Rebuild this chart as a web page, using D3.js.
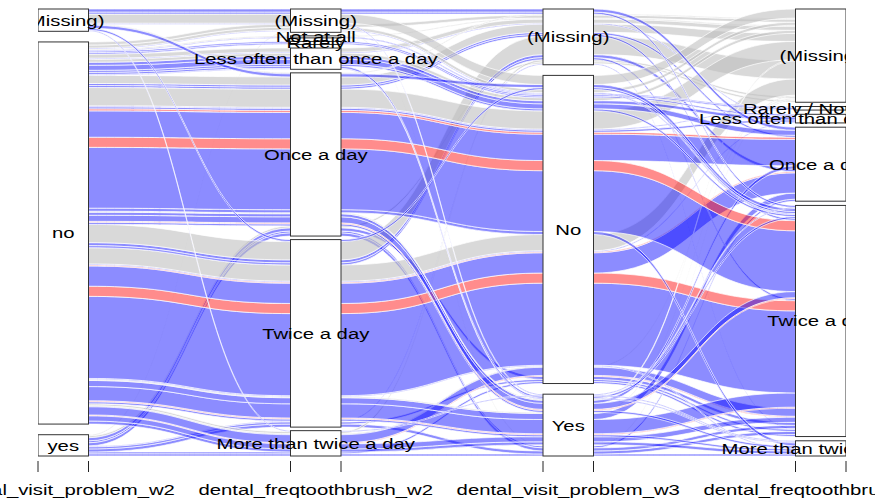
<!DOCTYPE html>
<meta charset="utf-8">
<script src="https://cdn.jsdelivr.net/npm/d3@7"></script>
<style>
body { margin: 0; background: #fff; }
svg text { font-family: "Liberation Sans", Arial, sans-serif; fill: #000; }
</style>
<body>
<div id="chart"></div>
<script>
// ---- data ----
const axisTitles = ["dental_visit_problem_w2", "dental_freqtoothbrush_w2",
                    "dental_visit_problem_w3", "dental_freqtoothbrush_w3"];
const levels1 = ["(Missing)", "no", "yes"];
const levels2 = ["(Missing)", "Not at all", "Rarely", "Less often than once a day",
                 "Once a day", "Twice a day", "More than twice a day"];
const levels3 = ["(Missing)", "No", "Yes"];
const levels4 = ["(Missing)", "Rarely / Not at all", "Less often than once a day",
                 "Once a day", "Twice a day", "More than twice a day"];

// one alluvium per position: level index on each axis, count and colour group
const a1 = [0,0,0,0,0,0,0,0, 1,1,1, 1,1, 1,1, 1,1,1,1,1,1,1,1,
            1,1,1,1,1,1,1,1,1,1,1,1,1,1,1,1,
            1,1,1,1,1,1,1,1,1,1,1,1,1,1,1,
            1,1,1,1,1,1, 2,2,2,2,2,2,2,2,2,2];
const a2 = [0,0,0,0,4,5,6,4, 0,0,0, 1,1, 2,2, 3,3,3,3,3,3,3,3,
            4,4,4,4,4,4,4,4,4,4,4,4,4,4,4,4,
            5,5,5,5,5,5,5,5,5,5,5,5,5,5,5,
            6,6,6,6,6,6, 0,4,4,4,4,5,5,6,6,5];
const a3 = [0,0,1,2,1,1,2,0, 0,1,1, 0,1, 1,1, 0,0,1,1,1,1,2,2,
            0,0,0,1,1,1,1,1,1,1,1,2,2,2,2,2,
            0,0,0,1,1,1,1,1,1,1,2,2,2,2,2,
            1,1,2,2,1,0, 2,1,2,2,0,1,2,2,1,0];
const a4 = [3,4,0,4,4,4,5,0, 0,0,4, 0,1, 1,2, 0,2,0,2,3,4,4,5,
            0,3,4,0,1,2,3,3,4,4,5,0,3,4,4,5,
            0,4,3,0,2,3,3,4,4,5,0,3,4,4,5,
            4,0,4,5,4,0, 0,4,4,3,0,4,4,5,4,4];
const freq = [3,2,9,1,3,2,1,1, 3,3,1, 1,1, 1.5,1.5, 4,1,3,3,5,2,2,1,
              8,2,2,18,1,2,2,26,10,60,3,1,3,6,1,2,
              18,2,3,16,1,1,20,10,81,1,1,6,14,1,2,
              8,1,5,3,1,2, 1,3,3,2,2,2,3,2,2,1];
const group = ["b","b","g","b","b","b","b","g", "g","g","b", "g","b", "b","b", "g","b","g","b","b","b","b","b",
               "g","b","b","g","b","b","r","b","r","b","b","g","b","b","r","b",
               "g","b","b","g","b","r","b","r","b","b","g","b","b","r","b",
               "b","g","b","b","r","g", "g","b","b","b","g","b","b","b","b","b"];

const colours = { b: "rgba(0,0,255,0.45)", r: "rgba(255,0,0,0.45)", g: "rgba(190,190,190,0.58)" };

// ---- layout ----
const width = 875, height = 499;
const cw = 0.1;
const levels = [levels1, levels2, levels3, levels4];
const cats = [a1, a2, a3, a4];
const nAx = cats.length;
const n = freq.length;
const N = d3.sum(freq);
const gapTotal = 0.05 * N;

const x = d3.scaleLinear().domain([1 - cw, nAx + cw]).range([38, 846]);
const y = d3.scaleLinear().domain([0, N + gapTotal]).range([9, 456]);

// stripe positions on every axis: sort by that axis, then the others in order
const stripeTop = d3.range(n).map(() => []);
const boxes = [];
for (let i = 0; i < nAx; i++) {
  const keys = [i].concat(d3.range(nAx).filter(j => j !== i));
  const ord = d3.range(n).sort((p, q) => {
    for (const k of keys) {
      if (cats[k][p] !== cats[k][q]) return cats[k][p] - cats[k][q];
    }
    return p - q;
  });
  const gap = gapTotal / (levels[i].length - 1);
  let pos = 0;
  levels[i].forEach((lab, li) => {
    const start = pos;
    ord.filter(k => cats[i][k] === li).forEach(k => {
      stripeTop[k][i] = pos;
      pos += freq[k];
    });
    boxes.push({ axis: i, label: lab, y0: start, y1: pos });
    pos += gap;
  });
}

function flowPath(k) {
  const p = d3.path();
  const t = stripeTop[k].map(v => y(v));
  const b = stripeTop[k].map(v => y(v + freq[k]));
  p.moveTo(x(1 - cw), t[0]);
  p.lineTo(x(1 + cw), t[0]);
  for (let i = 1; i < nAx; i++) {
    const x0 = x(i + cw), x1 = x(i + 1 - cw), xm = (x0 + x1) / 2;
    p.bezierCurveTo(xm, t[i - 1], xm, t[i], x1, t[i]);
    p.lineTo(x(i + 1 + cw), t[i]);
  }
  p.lineTo(x(nAx + cw), b[nAx - 1]);
  for (let i = nAx - 1; i > 0; i--) {
    const x0 = x(i + cw), x1 = x(i + 1 - cw), xm = (x0 + x1) / 2;
    p.lineTo(x1, b[i]);
    p.bezierCurveTo(xm, b[i], xm, b[i - 1], x0, b[i - 1]);
  }
  p.lineTo(x(1 - cw), b[0]);
  p.closePath();
  return p.toString();
}

// ---- drawing ----
const svg = d3.select("#chart").append("svg")
    .attr("width", width)
    .attr("height", height);

svg.append("clipPath").attr("id", "plotclip")
  .append("rect")
    .attr("x", x(1 - cw)).attr("y", 0)
    .attr("width", x(nAx + cw) - x(1 - cw)).attr("height", 460);

const plot = svg.append("g").attr("clip-path", "url(#plotclip)");

plot.append("g").selectAll("path")
  .data(d3.range(n).reverse())
  .join("path")
    .attr("d", flowPath)
    .attr("fill", k => colours[group[k]])
    .attr("stroke", "#fff")
    .attr("stroke-width", 0.7);

const stretch = 1.31;
for (let i = 0; i < nAx; i++) {
  const bx = boxes.filter(d => d.axis === i);
  plot.append("g").selectAll("rect")
    .data(bx)
    .join("rect")
      .attr("x", x(i + 1 - cw))
      .attr("y", d => y(d.y0))
      .attr("width", x(i + 1 + cw) - x(i + 1 - cw))
      .attr("height", d => y(d.y1) - y(d.y0))
      .attr("fill", "#fff")
      .attr("stroke", "#333")
      .attr("stroke-width", 1);
  plot.append("g").selectAll("text")
    .data(bx)
    .join("text")
      .attr("transform", d => `translate(${x(i + 1)},${y((d.y0 + d.y1) / 2)}) scale(${stretch},1)`)
      .attr("text-anchor", "middle")
      .attr("dy", "0.35em")
      .style("font-size", "15.5px")
      .text(d => d.label);
}

// axis: ticks at block edges, names under the axes
const tickX = d3.range(nAx).flatMap(i => [x(i + 1 - cw), x(i + 1 + cw)]);
svg.append("g").selectAll("line")
  .data(tickX)
  .join("line")
    .attr("x1", d => d).attr("x2", d => d)
    .attr("y1", 461).attr("y2", 472)
    .attr("stroke", "#222")
    .attr("stroke-width", 1);

svg.append("g").selectAll("text")
  .data(axisTitles)
  .join("text")
    .attr("transform", (d, i) => `translate(${x(i + 1)},490) scale(${stretch},1)`)
    .attr("text-anchor", "middle")
    .attr("dy", "0.35em")
    .style("font-size", "15.5px")
    .text(d => d);
</script>
</body>
